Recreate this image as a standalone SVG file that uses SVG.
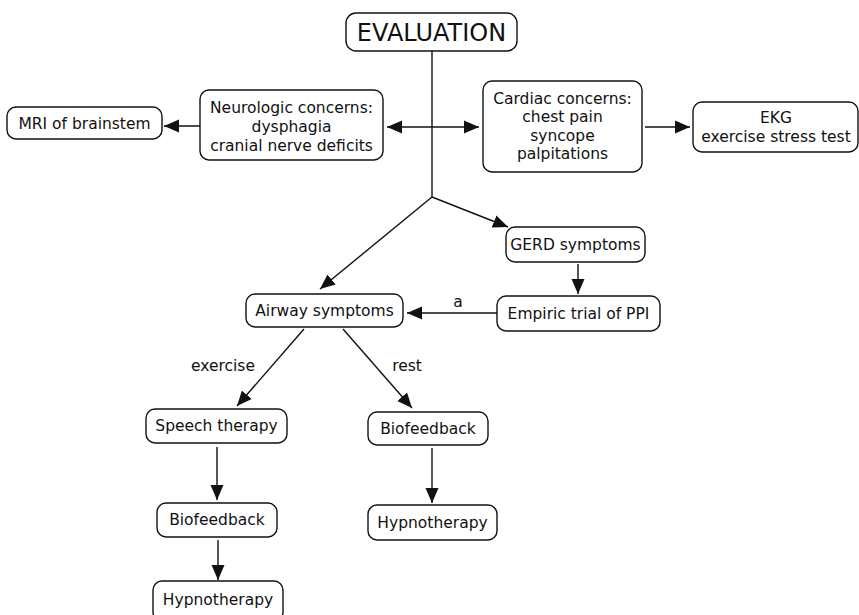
<svg xmlns="http://www.w3.org/2000/svg" width="859" height="615" viewBox="0 0 859 615">
<style>
.box{fill:#fff;stroke:#111;stroke-width:1.4}
text{font-family:"DejaVu Sans","Verdana",sans-serif;font-size:15.5px;fill:#111;text-anchor:middle}
.ln{stroke:#111;stroke-width:1.4;fill:none}
</style>
<defs>
<marker id="ah" markerUnits="userSpaceOnUse" markerWidth="16" markerHeight="16" viewBox="0 0 16 16" refX="15" refY="8" orient="auto-start-reverse">
<path d="M0,1.5 L15,8 L0,14.5 Z" fill="#111"/>
</marker>
</defs>
<rect width="859" height="615" fill="#fff"/>
<g id="connectors">
<line class="ln" x1="432" y1="51" x2="432" y2="197"/>
<line class="ln" x1="200" y1="126" x2="164" y2="126" marker-end="url(#ah)"/>
<line class="ln" x1="387" y1="127" x2="479" y2="127" marker-start="url(#ah)" marker-end="url(#ah)"/>
<line class="ln" x1="645" y1="127" x2="690" y2="127" marker-end="url(#ah)"/>
<line class="ln" x1="432" y1="197" x2="508" y2="227" marker-end="url(#ah)"/>
<line class="ln" x1="432" y1="197" x2="320" y2="289" marker-end="url(#ah)"/>
<line class="ln" x1="578" y1="264" x2="578" y2="294" marker-end="url(#ah)"/>
<line class="ln" x1="497" y1="313" x2="407" y2="313" marker-end="url(#ah)"/>
<text x="458" y="307">a</text>
<line class="ln" x1="304" y1="329" x2="237" y2="406" marker-end="url(#ah)"/>
<text x="223" y="371">exercise</text>
<line class="ln" x1="343" y1="329" x2="412" y2="408" marker-end="url(#ah)"/>
<text x="407" y="371">rest</text>
<line class="ln" x1="217" y1="447" x2="217" y2="500" marker-end="url(#ah)"/>
<line class="ln" x1="432" y1="448" x2="432" y2="503" marker-end="url(#ah)"/>
<line class="ln" x1="218" y1="540" x2="218" y2="580" marker-end="url(#ah)"/>
</g>
<g id="evaluation">
<rect class="box" x="346" y="13" width="171" height="38" rx="10"/>
<text x="431.5" y="41" style="font-size:24px">EVALUATION</text>
</g>
<g id="neurologic">
<rect class="box" x="200" y="90" width="183" height="70" rx="9"/>
<text x="291.5" y="113">Neurologic concerns:</text>
<text x="291.5" y="132">dysphagia</text>
<text x="291.5" y="151">cranial nerve deficits</text>
</g>
<g id="mri">
<rect class="box" x="7" y="107" width="155" height="32" rx="9"/>
<text x="84.5" y="129">MRI of brainstem</text>
</g>
<g id="cardiac">
<rect class="box" x="483" y="81" width="159" height="91" rx="9"/>
<text x="562.5" y="104">Cardiac concerns:</text>
<text x="562.5" y="122">chest pain</text>
<text x="562.5" y="141">syncope</text>
<text x="562.5" y="159">palpitations</text>
</g>
<g id="ekg">
<rect class="box" x="693" y="102" width="165" height="50" rx="9"/>
<text x="776" y="123">EKG</text>
<text x="776" y="142">exercise stress test</text>
</g>
<g id="gerd">
<rect class="box" x="506" y="227" width="139" height="35" rx="9"/>
<text x="575.5" y="250">GERD symptoms</text>
</g>
<g id="empiric">
<rect class="box" x="497" y="296" width="163" height="35" rx="9"/>
<text x="578.5" y="319">Empiric trial of PPI</text>
</g>
<g id="airway">
<rect class="box" x="246" y="294" width="157" height="33" rx="9"/>
<text x="324.5" y="316">Airway symptoms</text>
</g>
<g id="speech">
<rect class="box" x="146" y="409" width="141" height="34" rx="9"/>
<text x="216.5" y="431">Speech therapy</text>
</g>
<g id="biofeedback-left">
<rect class="box" x="157" y="503" width="120" height="34" rx="9"/>
<text x="217" y="525">Biofeedback</text>
</g>
<g id="biofeedback-right">
<rect class="box" x="368" y="412" width="120" height="33" rx="9"/>
<text x="428" y="434">Biofeedback</text>
</g>
<g id="hypnotherapy-right">
<rect class="box" x="368" y="505" width="129" height="35" rx="9"/>
<text x="432.5" y="528">Hypnotherapy</text>
</g>
<g id="hypnotherapy-left">
<rect class="box" x="153" y="581" width="130" height="40" rx="9"/>
<text x="218" y="605">Hypnotherapy</text>
</g>
</svg>
